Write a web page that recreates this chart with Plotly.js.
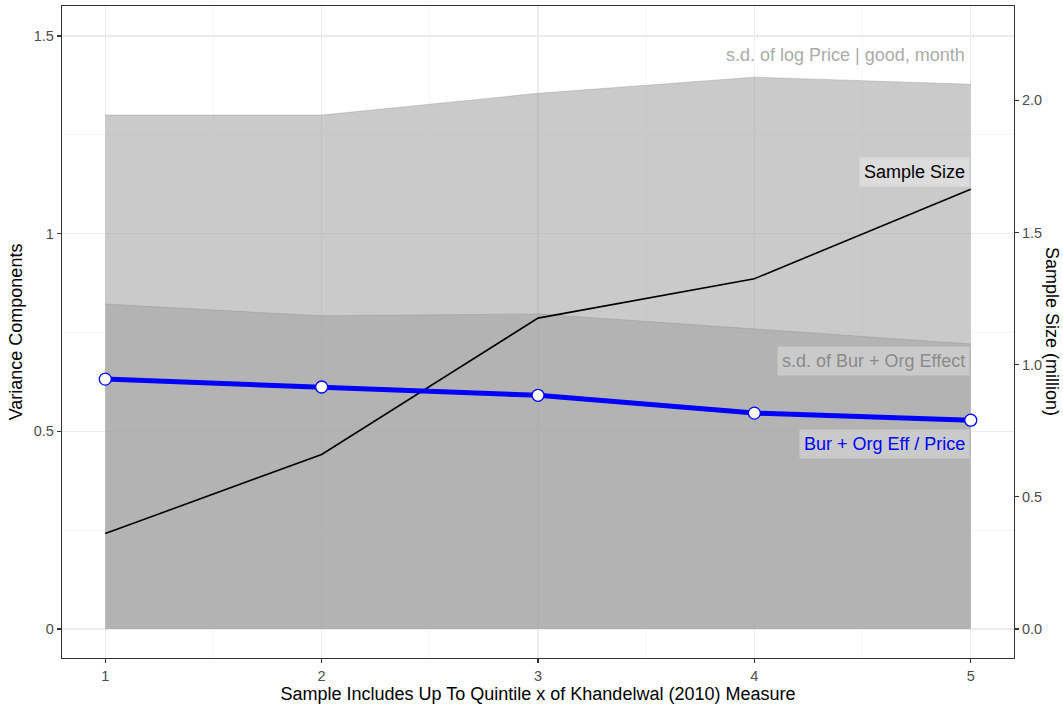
<!DOCTYPE html>
<html>
<head>
<meta charset="utf-8">
<script src="https://cdn.plot.ly/plotly-3.0.1.min.js"></script>
<style>html,body{margin:0;padding:0;background:#fff;}#chart{width:1063px;height:705px;}</style>
</head>
<body>
<div id="chart"></div>
<script>
const quintiles = [1, 2, 3, 4, 5];
const sdLogPrice = [1.300, 1.300, 1.355, 1.396, 1.378];
const sdBurOrg = [0.822, 0.792, 0.797, 0.759, 0.721];
const burOrgOverPrice = [0.632, 0.612, 0.591, 0.546, 0.528];
const sampleSizeMillion = [0.361, 0.660, 1.176, 1.325, 1.664];

const xTickVals = [1, 2, 3, 4, 5];
const yTickVals = [0, 0.5, 1, 1.5];
const yTickText = ['0', '0.5', '1', '1.5'];
const y2TickVals = [0, 0.5, 1, 1.5, 2];
const y2TickText = ['0.0', '0.5', '1.0', '1.5', '2.0'];

const FONT = 'Liberation Sans, Arial, Helvetica, sans-serif';
const areaFill = 'rgba(161,161,161,0.57)';
const areaLine = 'rgba(140,140,140,0.35)';

const traces = [
  {x: quintiles, y: sdLogPrice, type: 'scatter', mode: 'lines', fill: 'tozeroy',
   fillcolor: areaFill, line: {color: areaLine, width: 1}, hoverinfo: 'skip', xaxis: 'x', yaxis: 'y'},
  {x: quintiles, y: sdBurOrg, type: 'scatter', mode: 'lines', fill: 'tozeroy',
   fillcolor: areaFill, line: {color: areaLine, width: 1}, hoverinfo: 'skip', xaxis: 'x', yaxis: 'y'},
  {x: quintiles, y: sampleSizeMillion, type: 'scatter', mode: 'lines',
   line: {color: '#000000', width: 1.6}, xaxis: 'x', yaxis: 'y2'},
  {x: quintiles, y: burOrgOverPrice, type: 'scatter', mode: 'lines+markers',
   line: {color: '#0000FF', width: 5},
   marker: {size: 12, color: '#FFFFFF', line: {color: '#0000FF', width: 1.3}},
   xaxis: 'x', yaxis: 'y3'}
];

const yRange = [-0.0736, 1.576];
const y2Range = [-0.110, 2.357];

const layout = {
  width: 1063, height: 705,
  margin: {l: 62, r: 49, t: 6, b: 47},
  paper_bgcolor: '#FFFFFF', plot_bgcolor: '#FFFFFF',
  showlegend: false,
  font: {family: FONT, size: 14, color: '#4D4D4D'},
  xaxis: {
    range: [0.8, 5.2], tickvals: xTickVals, ticktext: xTickVals.map(String),
    showgrid: true, gridcolor: '#EBEBEB', gridwidth: 1.2,
    minor: {dtick: 0.5, tick0: 0.5, showgrid: true, gridcolor: '#F3F3F3', gridwidth: 0.8},
    zeroline: false, showline: true, mirror: true, linecolor: '#333333', linewidth: 1.2,
    ticks: 'outside', ticklen: 4, tickcolor: '#333333', tickwidth: 1.2,
    tickfont: {family: FONT, size: 14.5, color: '#4D4D4D'},
    title: {text: 'Sample Includes Up To Quintile x of Khandelwal (2010) Measure',
            font: {family: FONT, size: 18, color: '#000000'}, standoff: 2}
  },
  yaxis: {
    range: yRange, tickvals: yTickVals, ticktext: yTickText,
    showgrid: true, gridcolor: '#EBEBEB', gridwidth: 1.2,
    minor: {tickvals: [0.25, 0.75, 1.25], showgrid: true, gridcolor: '#F3F3F3', gridwidth: 0.8},
    zeroline: false, showline: true, mirror: true, linecolor: '#333333', linewidth: 1.2,
    ticks: 'outside', ticklen: 4, tickcolor: '#333333', tickwidth: 1.2,
    tickfont: {family: FONT, size: 14.5, color: '#4D4D4D'},
    title: {text: 'Variance Components', font: {family: FONT, size: 18, color: '#000000'}, standoff: 6}
  },
  yaxis2: {
    range: y2Range, tickvals: y2TickVals, ticktext: y2TickText,
    overlaying: 'y', side: 'right', anchor: 'x',
    showgrid: false, zeroline: false, showline: false,
    ticks: 'outside', ticklen: 4, tickcolor: '#333333', tickwidth: 1.2,
    tickfont: {family: FONT, size: 14.5, color: '#4D4D4D'}
  },
  yaxis3: {
    range: yRange, overlaying: 'y', side: 'left', anchor: 'x',
    showgrid: false, zeroline: false, showline: false, showticklabels: false, ticks: ''
  },
  annotations: [
    {text: 'Sample Size (million)', xref: 'paper', yref: 'paper', x: 1.0525, y: 0.5,
     textangle: 90, showarrow: false, font: {family: FONT, size: 18, color: '#000000'}},
    {text: 's.d. of log Price | good, month', xref: 'x', yref: 'y', x: 5, y: 1.452, xshift: -1,
     xanchor: 'right', yanchor: 'middle', showarrow: false, borderpad: 4,
     bgcolor: 'rgba(255,255,255,0.35)', font: {family: FONT, size: 18, color: '#ABABAB'}},
    {text: 'Sample Size', xref: 'x', yref: 'y', x: 5, y: 1.155, xshift: -1,
     xanchor: 'right', yanchor: 'middle', showarrow: false, borderpad: 4,
     bgcolor: 'rgba(255,255,255,0.35)', font: {family: FONT, size: 18, color: '#000000'}},
    {text: 's.d. of Bur + Org Effect', xref: 'x', yref: 'y', x: 5, y: 0.678, xshift: -1,
     xanchor: 'right', yanchor: 'middle', showarrow: false, borderpad: 4,
     bgcolor: 'rgba(255,255,255,0.3)', font: {family: FONT, size: 18, color: '#8A8A8A'}},
    {text: 'Bur + Org Eff / Price', xref: 'x', yref: 'y', x: 5, y: 0.467, xshift: -1,
     xanchor: 'right', yanchor: 'middle', showarrow: false, borderpad: 4,
     bgcolor: 'rgba(255,255,255,0.3)', font: {family: FONT, size: 18, color: '#0000FF'}}
  ]
};

Plotly.newPlot('chart', traces, layout, {displayModeBar: false, staticPlot: true});
</script>
</body>
</html>
